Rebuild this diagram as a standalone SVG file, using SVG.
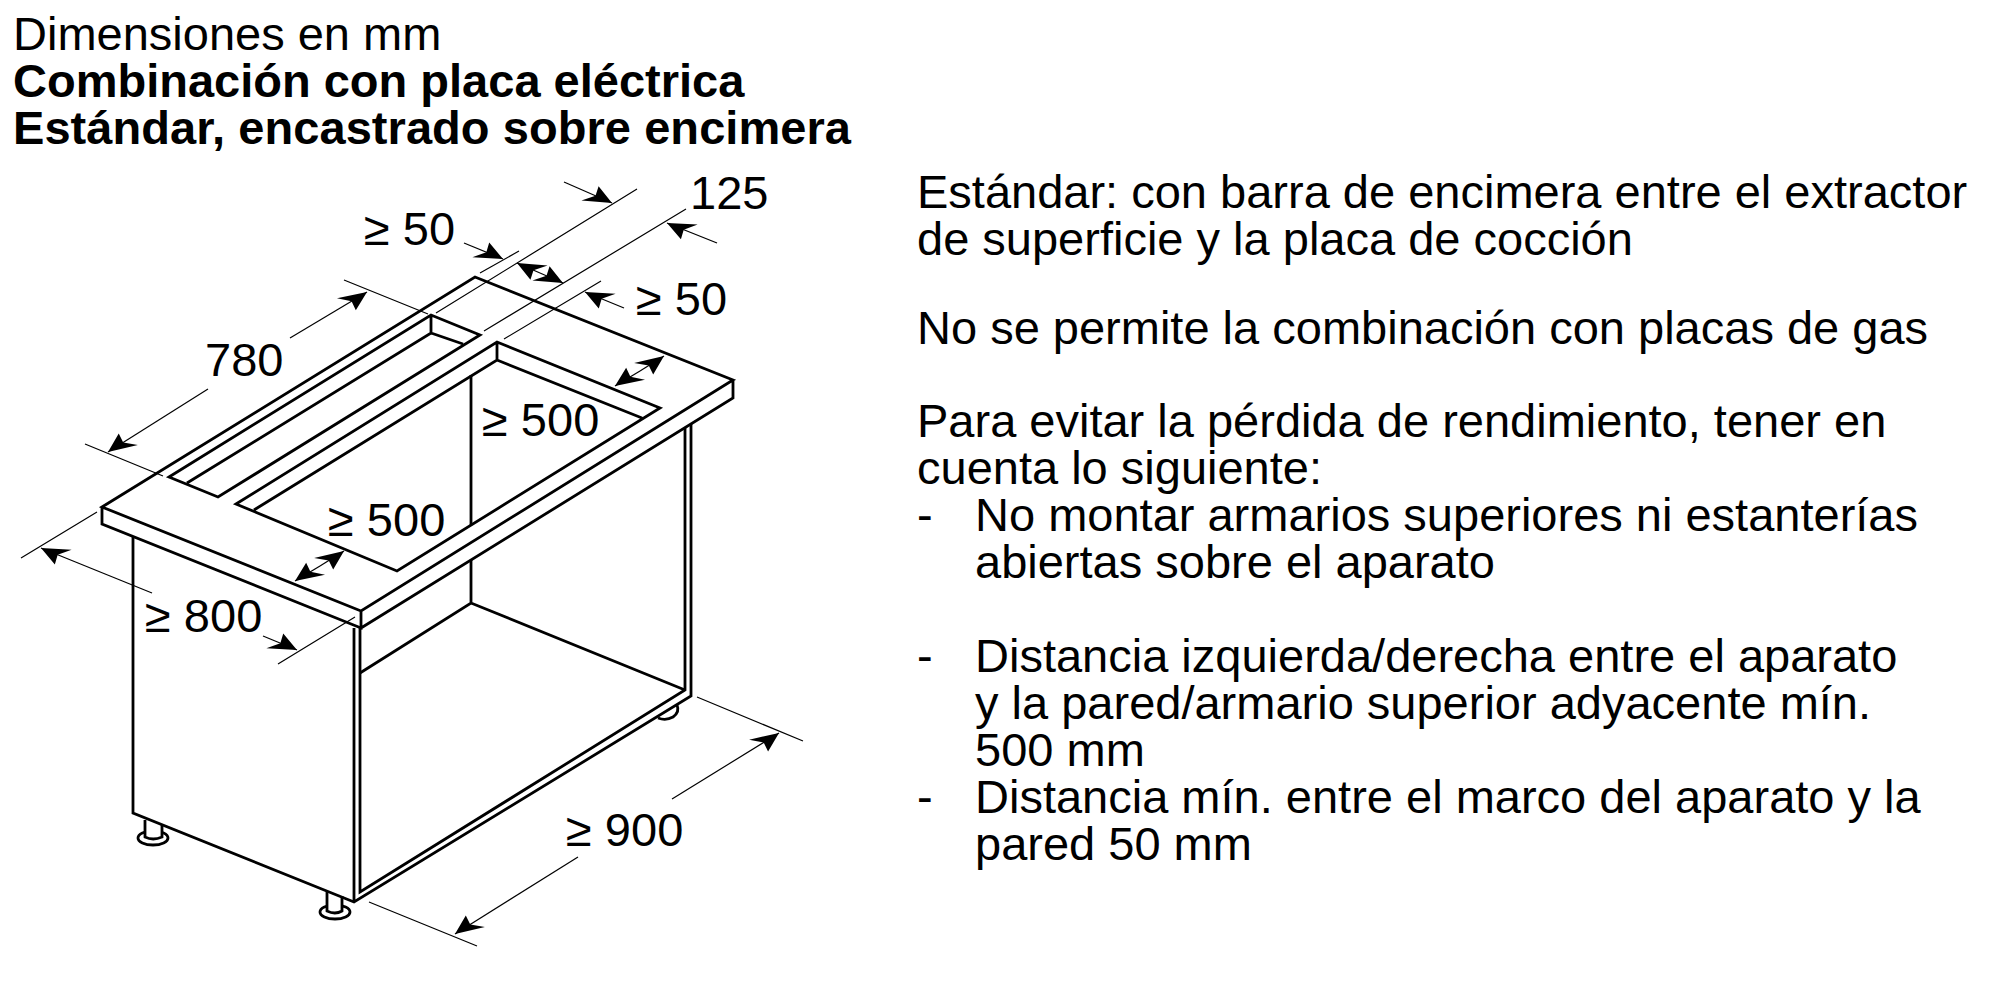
<svg xmlns="http://www.w3.org/2000/svg" width="2000" height="1000" viewBox="0 0 2000 1000">
<style>
text{font-family:"Liberation Sans",Arial,sans-serif;font-size:47px;fill:#000}
.b{font-weight:bold}
.h{fill:none;stroke:#000;stroke-width:2.8;stroke-linejoin:miter;stroke-linecap:butt}
.d{fill:none;stroke:#000;stroke-width:1.2}
.v{fill:none;stroke:#000;stroke-width:1.2;marker-end:url(#arV)}
.u{fill:none;stroke:#000;stroke-width:1.2;marker-end:url(#arU)}
.f{fill:#fff;stroke:#000;stroke-width:2.8}
</style>
<defs>
<marker id="arV" markerUnits="userSpaceOnUse" markerWidth="34" markerHeight="26" refX="30" refY="13" orient="auto">
<path d="M30 13L11 3L12 13L1 23Z" fill="#000"/>
</marker>
<marker id="arU" markerUnits="userSpaceOnUse" markerWidth="34" markerHeight="26" refX="30" refY="13" orient="auto">
<path d="M30 13L11 23L12 13L1 3Z" fill="#000"/>
</marker>
</defs>
<rect width="2000" height="1000" fill="#fff"/>
<g id="titulo">
<text x="13" y="50">Dimensiones en mm</text>
<text x="13" y="97" class="b">Combinación con placa eléctrica</text>
<text x="13" y="144" class="b" textLength="838">Estándar, encastrado sobre encimera</text>
</g>
<g id="notas">
<text x="917" y="208">Estándar: con barra de encimera entre el extractor</text>
<text x="917" y="255">de superficie y la placa de cocción</text>
<text x="917" y="344">No se permite la combinación con placas de gas</text>
<text x="917" y="437">Para evitar la pérdida de rendimiento, tener en</text>
<text x="917" y="484">cuenta lo siguiente:</text>
<text x="917" y="531">-</text>
<text x="975" y="531">No montar armarios superiores ni estanterías</text>
<text x="975" y="578">abiertas sobre el aparato</text>
<text x="917" y="672">-</text>
<text x="975" y="672">Distancia izquierda/derecha entre el aparato</text>
<text x="975" y="719">y la pared/armario superior adyacente mín.</text>
<text x="975" y="766">500 mm</text>
<text x="917" y="813">-</text>
<text x="975" y="813">Distancia mín. entre el marco del aparato y la</text>
<text x="975" y="860">pared 50 mm</text>
</g>
<g id="patas">
<ellipse class="f" cx="153" cy="838" rx="15" ry="7"/>
<path class="f" d="M145 820V837Q153 841 162 837V824"/>
<ellipse class="f" cx="335" cy="912" rx="15" ry="7"/>
<path class="f" d="M327 892V911Q335 915 342 911V896"/>
<path class="h" d="M658 718Q666 721 673 717Q680 712 677 705"/>
</g>
<g id="mueble">
<path class="h" d="M133 537V813L354 902L691 696V424M354 628V902M360 628V892L685 690V428"/>
<path class="h" d="M360 673L471 603L685 690M471 603V560M471 525V375"/>
</g>
<g id="encimera">
<path class="h" d="M102 507L475 277L733 380L361 611ZM102 507V524L361 628V611M361 628L733 398V380"/>
</g>
<g id="hueco-extractor">
<path class="h" d="M169 477L431 315L480 335L218 497ZM187 483L431 333L463 344M431 315V333"/>
</g>
<g id="hueco-placa">
<path class="h" d="M236 504L497 342L660 408L397 571ZM254 510L497 360L642 418M497 342V360"/>
</g>
<g id="cotas">
<path class="d" d="M519 251L480 273M637 189L436 313M686 209L484 331M601 281L504 339M344 280L428 314M85 444L163 476M97 512L21 558M355 617L278 664M369 902L477 946M697 697L803 741"/>
<path class="v" d="M564 182L612 203"/>
<path class="v" d="M717 243L667 223"/>
<path class="v" d="M464 243L503 259"/>
<path class="v" d="M624 308L585 292"/>
<path class="v" d="M540 273L517 263"/>
<path class="v" d="M540 273L563 283"/>
<path class="u" d="M640 371L615 386"/>
<path class="u" d="M640 371L664 356"/>
<path class="u" d="M320 566L295 581"/>
<path class="u" d="M320 566L344 551"/>
<path class="u" d="M290 338L367 292"/>
<path class="u" d="M208 389L108 452"/>
<path class="v" d="M152 593L41 548"/>
<path class="v" d="M263 636L297 650"/>
<path class="u" d="M578 857L455 934"/>
<path class="u" d="M672 799L779 733"/>
</g>
<g id="etiquetas">
<text x="364" y="245">≥ 50</text>
<text x="690" y="209">125</text>
<text x="636" y="315">≥ 50</text>
<text x="205" y="376">780</text>
<text x="482" y="436">≥ 500</text>
<text x="328" y="536">≥ 500</text>
<text x="145" y="632">≥ 800</text>
<text x="566" y="846">≥ 900</text>
</g>
</svg>
